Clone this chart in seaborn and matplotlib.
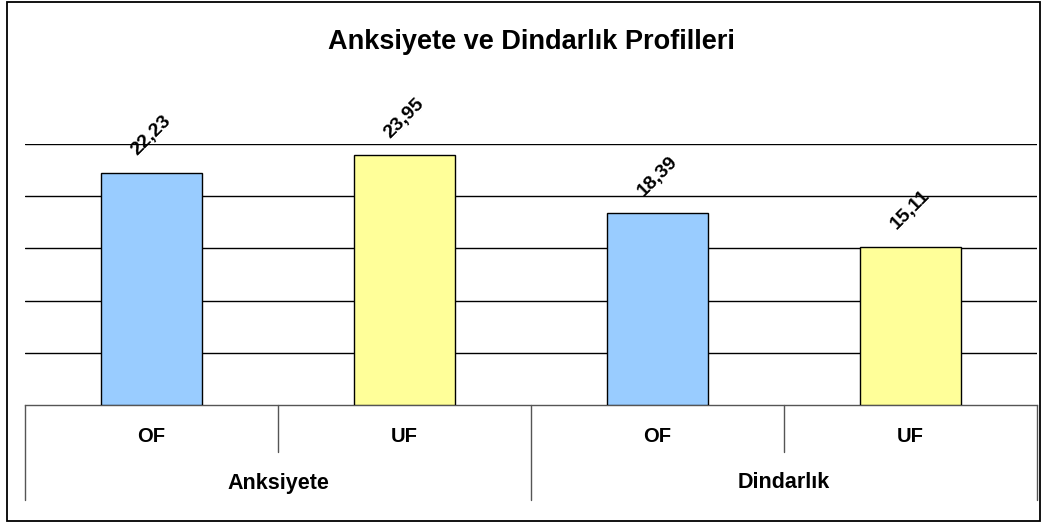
import matplotlib
matplotlib.use("Agg")
import matplotlib.pyplot as plt
import matplotlib.transforms as mtransforms
from matplotlib.patches import Rectangle
import seaborn as sns
import pandas as pd

# ---- data ----
groups = ["Anksiyete", "Anksiyete", "Dindarlık", "Dindarlık"]
subs = ["OF", "UF", "OF", "UF"]
values = [22.23, 23.95, 18.39, 15.11]
value_labels = ["22,23", "23,95", "18,39", "15,11"]
group_names = ["Anksiyete", "Dindarlık"]
title = "Anksiyete ve Dindarlık Profilleri"
colors = {"OF": "#99CCFF", "UF": "#FFFF99"}

sns.set_theme(style="white")
plt.rcParams["font.family"] = ["Liberation Sans", "DejaVu Sans"]
plt.rcParams["text.color"] = "black"

df = pd.DataFrame({
    "key": [f"{g} {s}" for g, s in zip(groups, subs)],
    "sub": subs,
    "value": values,
})

W, H = 1044, 523
fig = plt.figure(figsize=(W / 100, H / 100), dpi=100)
fig.patch.set_facecolor("white")

# outer chart border
fig.patches.append(Rectangle((7 / W, 2 / H), (1040 - 7) / W, (521 - 2) / H,
                             transform=fig.transFigure, fill=False,
                             edgecolor="black", linewidth=1.3))

ax_left, ax_right = 25, 1037
ax_top, ax_bot = 144, 405
ax = fig.add_axes([ax_left / W, (H - ax_bot) / H, (ax_right - ax_left) / W,
                   (ax_bot - ax_top) / H])
ax.set_facecolor("white")

sns.barplot(data=df, x="key", y="value", hue="sub", palette=colors,
            saturation=1, dodge=False, width=0.40, edgecolor="black",
            linewidth=1, legend=False, ax=ax, zorder=3)

ax.set_xlim(-0.5, 3.5)
ax.set_ylim(0, 25)
ax.set_yticks([5, 10, 15, 20, 25])
ax.yaxis.grid(True, color="black", linewidth=1)
ax.set_axisbelow(True)
ax.tick_params(left=False, bottom=False, labelleft=False, labelbottom=False)
for s in ["left", "right", "top"]:
    ax.spines[s].set_visible(False)
ax.spines["bottom"].set_color("#555555")
ax.spines["bottom"].set_linewidth(1)
ax.set_xlabel("")
ax.set_ylabel("")

# value labels
for i, (v, lab) in enumerate(zip(values, value_labels)):
    ax.annotate(lab, xy=(i, v), xytext=(0, 37), textcoords="offset pixels",
                rotation=45, ha="center", va="center", fontsize=14,
                fontweight="bold", color="black", annotation_clip=False)

# category axis (two-level)
ph = ax_bot - ax_top
trans = mtransforms.blended_transform_factory(ax.transData, ax.transAxes)
long_y = -(500 - ax_bot) / ph
short_y = -(452 - ax_bot) / ph
for xb in [-0.5, 1.5, 3.5]:
    ax.plot([xb, xb], [0, long_y], transform=trans, color="#555555",
            linewidth=1, clip_on=False)
for xb in [0.5, 2.5]:
    ax.plot([xb, xb], [0, short_y], transform=trans, color="#555555",
            linewidth=1, clip_on=False)
sub_y = -(437 - ax_bot) / ph
grp_y = -(483 - ax_bot) / ph
for i, s in enumerate(subs):
    ax.text(i, sub_y, s, transform=trans, ha="center", va="center",
            fontsize=14.5, fontweight="bold", color="black")
for j, g in enumerate(group_names):
    ax.text(2 * j + 0.5, grp_y, g, transform=trans, ha="center", va="center",
            fontsize=15.5, fontweight="bold", color="black")

fig.text(531 / W, 1 - 42 / H, title, ha="center", va="center",
         fontsize=19.5, fontweight="bold", color="black")

fig.savefig("out.png", dpi=100)
